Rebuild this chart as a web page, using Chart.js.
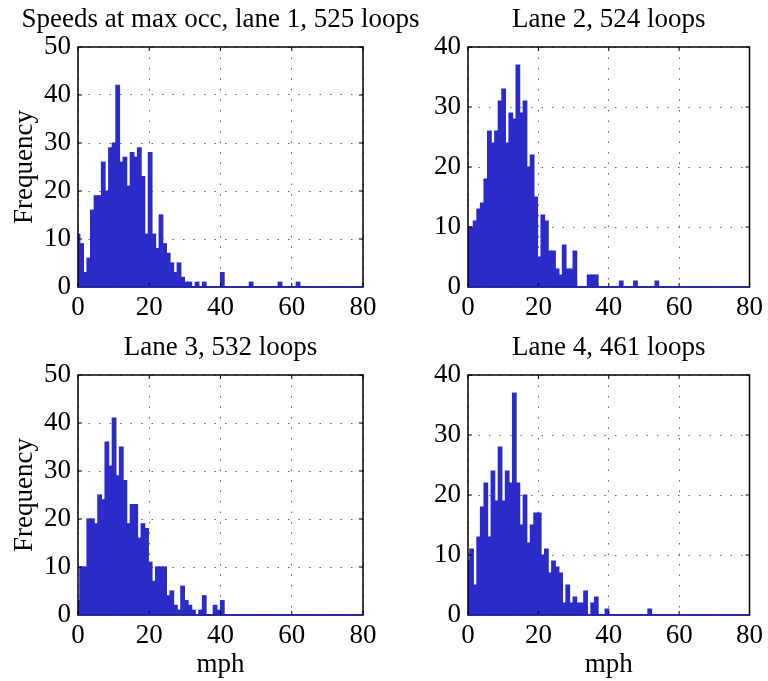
<!DOCTYPE html>
<html>
<head>
<meta charset="utf-8">
<script src="https://cdn.jsdelivr.net/npm/chart.js@4.4.1/dist/chart.umd.min.js"></script>
<style>
  html, body { margin: 0; padding: 0; background: #fff; }
  #wrap { position: relative; width: 768px; height: 681px; }
  #wrap canvas { position: absolute; left: 0; top: 0; }
</style>
</head>
<body>
<div id="wrap">
  <canvas id="lane1" width="768" height="681"></canvas>
  <canvas id="lane2" width="768" height="681"></canvas>
  <canvas id="lane3" width="768" height="681"></canvas>
  <canvas id="lane4" width="768" height="681"></canvas>
</div>
<script>
// histogram bins: 80 bins centred from 0 to 80 mph
const binCount = 80;
const xMax = 80;
const binCenters = Array.from({ length: binCount }, (_, k) => (k * xMax) / (binCount - 1));

const lane1Counts = [
  11, 9, 3, 6, 16, 19, 19, 26, 20, 29,
  30, 42, 26, 27, 21, 28, 27, 29, 23, 11,
  28, 11, 8, 15, 9, 7, 5, 3, 5, 2,
  1, 1, 0, 1, 0, 1, 0, 0, 0, 0,
  3, 0, 0, 0, 0, 0, 0, 0, 1, 0,
  0, 0, 0, 0, 0, 0, 1, 0, 0, 0,
  0, 1, 0, 0, 0, 0, 0, 0, 0, 0,
  0, 0, 0, 0, 0, 0, 0, 0, 0, 0,
];
const lane2Counts = [
  10, 10, 11, 13, 14, 18, 26, 24, 26, 31,
  33, 24, 29, 28, 37, 29, 31, 20, 22, 15,
  5, 12, 11, 6, 6, 3, 2, 7, 3, 3,
  6, 0, 0, 0, 2, 2, 2, 0, 0, 0,
  0, 0, 0, 1, 0, 0, 0, 1, 0, 0,
  0, 0, 0, 1, 0, 0, 0, 0, 0, 0,
  0, 0, 0, 0, 0, 0, 0, 0, 0, 0,
  0, 0, 0, 0, 0, 0, 0, 0, 0, 0,
];
const lane3Counts = [
  3, 10, 10, 20, 20, 19, 25, 24, 36, 31,
  41, 29, 35, 28, 19, 23, 23, 16, 19, 18,
  11, 7, 10, 10, 10, 4, 5, 2, 1, 6,
  3, 2, 1, 0, 1, 4, 0, 0, 2, 1,
  3, 0, 0, 0, 0, 0, 0, 0, 0, 0,
  0, 0, 0, 0, 0, 0, 0, 0, 0, 0,
  0, 0, 0, 0, 0, 0, 0, 0, 0, 0,
  0, 0, 0, 0, 0, 0, 0, 0, 0, 0,
];
const lane4Counts = [
  9, 11, 5, 13, 18, 22, 13, 24, 19, 28,
  19, 24, 22, 37, 22, 15, 20, 12, 15, 17,
  17, 10, 11, 7, 9, 8, 7, 2, 5, 2,
  3, 2, 2, 4, 0, 2, 3, 0, 0, 1,
  0, 0, 0, 0, 0, 0, 0, 0, 0, 0,
  0, 1, 0, 0, 0, 0, 0, 0, 0, 0,
  0, 0, 0, 0, 0, 0, 0, 0, 0, 0,
  0, 0, 0, 0, 0, 0, 0, 0, 0, 0,
];

const titles = [
  "Speeds at max occ, lane 1, 525 loops",
  "Lane 2, 524 loops",
  "Lane 3, 532 loops",
  "Lane 4, 461 loops",
];
const yMaxes = [50, 40, 50, 40];
const xStep = 20;
const yStep = 10;

const barColor = "#2b2bc9";
const fontFamily = '"Liberation Serif", "Times New Roman", serif';
const fontSize = 27;

// frame, inward tick marks, blue baseline and title
function framePlugin(title) {
  return {
    id: "panelFrame",
    afterDatasetsDraw(chart) {
      const { ctx, chartArea: a, scales } = chart;
      const line = (x1, y1, x2, y2) => {
        ctx.beginPath();
        ctx.moveTo(x1, y1);
        ctx.lineTo(x2, y2);
        ctx.stroke();
      };
      ctx.save();
      ctx.strokeStyle = "#000";
      ctx.lineWidth = 1;
      scales.x.ticks.forEach((t) => {
        const px = scales.x.getPixelForValue(t.value);
        line(px, a.bottom, px, a.bottom - 4);
        line(px, a.top, px, a.top + 4);
      });
      scales.y.ticks.forEach((t) => {
        const py = scales.y.getPixelForValue(t.value);
        line(a.left, py, a.left + 4, py);
        line(a.right, py, a.right - 4, py);
      });
      ctx.lineWidth = 1.5;
      ctx.strokeRect(a.left, a.top, a.width, a.height);
      ctx.strokeStyle = barColor;
      line(a.left, a.bottom, a.right, a.bottom);
      ctx.fillStyle = "#000";
      ctx.font = fontSize + "px " + fontFamily;
      ctx.textAlign = "center";
      ctx.textBaseline = "alphabetic";
      ctx.fillText(title, (a.left + a.right) / 2, a.top - 20);
      ctx.restore();
    },
  };
}

function makePanel(id, counts, title, yMax, pad, yWidth, xHeight, yTitle, xTitle) {
  new Chart(document.getElementById(id), {
    type: "bar",
    data: {
      datasets: [
        {
          data: counts.map((c, i) => ({ x: binCenters[i], y: c })),
          backgroundColor: barColor,
          borderWidth: 0,
          inflateAmount: 0.6,
          barPercentage: 1,
          categoryPercentage: 1,
        },
      ],
    },
    options: {
      responsive: false,
      animation: false,
      events: [],
      layout: { padding: pad },
      plugins: {
        legend: { display: false },
        tooltip: { enabled: false },
        title: { display: false },
      },
      scales: {
        x: {
          type: "linear",
          min: 0,
          max: xMax,
          offset: false,
          afterFit: (s) => { s.height = xHeight; },
          ticks: {
            stepSize: xStep,
            maxRotation: 0,
            padding: 5,
            color: "#000",
            font: { family: fontFamily, size: fontSize },
          },
          grid: { color: "rgba(0,0,0,0.6)", lineWidth: 1, drawTicks: false, offset: false },
          border: { display: false, dash: [1.5, 9] },
          title: {
            display: !!xTitle,
            text: xTitle || "",
            color: "#000",
            font: { family: fontFamily, size: fontSize },
            padding: { top: 0, bottom: 0 },
          },
        },
        y: {
          min: 0,
          max: yMax,
          afterFit: (s) => { s.width = yWidth; },
          ticks: {
            stepSize: yStep,
            padding: 7,
            color: "#000",
            font: { family: fontFamily, size: fontSize },
          },
          grid: { color: "rgba(0,0,0,0.6)", lineWidth: 1, drawTicks: false },
          border: { display: false, dash: [1.5, 9] },
          title: {
            display: !!yTitle,
            text: yTitle || "",
            color: "#000",
            font: { family: fontFamily, size: fontSize },
            padding: { top: 9, bottom: 0 },
          },
        },
      },
    },
    plugins: [framePlugin(title)],
  });
}

makePanel("lane1", lane1Counts, titles[0], yMaxes[0],
  { left: 0, right: 405, top: 47, bottom: 354 }, 78, 40, "Frequency", null);
makePanel("lane2", lane2Counts, titles[1], yMaxes[1],
  { left: 400, right: 14, top: 47, bottom: 354 }, 68, 40, null, null);
makePanel("lane3", lane3Counts, titles[2], yMaxes[2],
  { left: 0, right: 405, top: 375, bottom: 0 }, 78, 66, "Frequency", "mph");
makePanel("lane4", lane4Counts, titles[3], yMaxes[3],
  { left: 400, right: 14, top: 375, bottom: 0 }, 68, 66, null, "mph");
</script>
</body>
</html>
